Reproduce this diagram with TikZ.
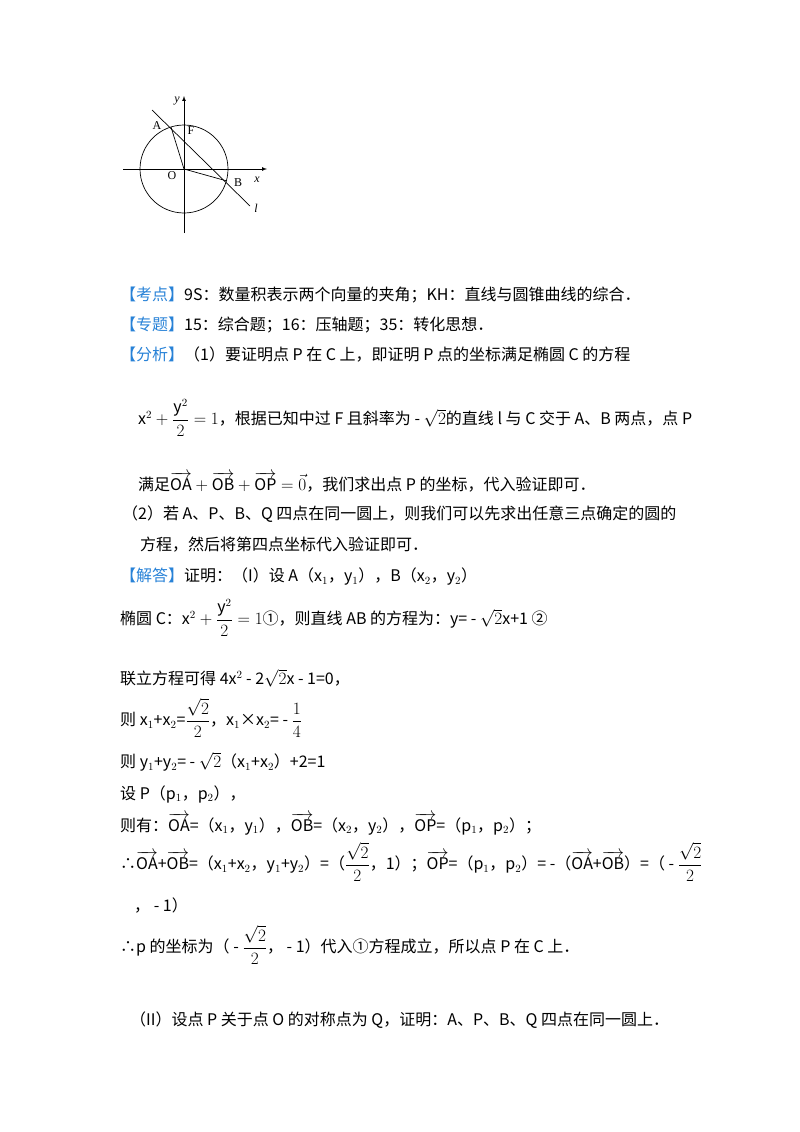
\documentclass[tikz,border=0pt]{standalone}
\usepackage{amsmath}
\usepackage{fontspec}
\setmainfont{Noto Sans CJK SC}
\newfontfamily\labfont{Liberation Serif}
\definecolor{kblue}{RGB}{40,130,215}
\newcommand{\vv}[1]{\overrightarrow{\mathrm{#1}}}
\begin{document}
\begin{tikzpicture}[x=1pt,y=-1pt,
  txt/.style={anchor=west,inner sep=0pt,font=\fontsize{16}{19}\selectfont},
  lab/.style={inner sep=0pt,font=\fontsize{12}{14}\selectfont\labfont},
  fig/.style={line width=0.7pt}]
\useasboundingbox (0,0) rectangle (800,1132);
% figure
\coordinate (O) at (184,169);
\draw[fig] (O) circle (44);
\draw[fig,-latex] (123,169) -- (267,169);
\draw[fig,-latex] (184,233) -- (184,96);
\coordinate (A) at (171,127);
\coordinate (B) at (227,181);
\coordinate (L1) at (152,110);
\coordinate (L2) at (250,206);
\draw[fig] (L1) -- (L2);
\draw[fig] (A) -- (O) -- (B);
\node[lab] at (177,101) {\textit{y}};
\node[lab] at (157,126) {A};
\node[lab] at (191,131) {F};
\node[lab] at (172,176) {O};
\node[lab] at (238,183) {B};
\node[lab] at (257,180) {\textit{x}};
\node[lab] at (256,208) {\textit{l}};
% text
\node[txt] (t1) at (120,295) {\textcolor{kblue}{【考点】}9S：数量积表示两个向量的夹角；KH：直线与圆锥曲线的综合．};
\node[txt] (t2) at (120,325) {\textcolor{kblue}{【专题】}15：综合题；16：压轴题；35：转化思想．};
\node[txt] (t3) at (120,355) {\textcolor{kblue}{【分析】}（1）要证明点 P 在 C 上，即证明 P 点的坐标满足椭圆 C 的方程};
\node[txt] (t4) at (138,418) {$\mathrm{x}^2+\dfrac{\mathrm{y}^2}{2}=1$，根据已知中过 F 且斜率为 - $\sqrt{2}$的直线 l 与 C 交于 A、B 两点，点 P};
\node[txt] (t5) at (138,482) {满足$\vv{OA}+\vv{OB}+\vv{OP}=\vec{0}$，我们求出点 P 的坐标，代入验证即可．};
\node[txt] (t6) at (122,514) {（2）若 A、P、B、Q 四点在同一圆上，则我们可以先求出任意三点确定的圆的};
\node[txt] (t7) at (140,545) {方程，然后将第四点坐标代入验证即可．};
\node[txt] (t8) at (120,577) {\textcolor{kblue}{【解答】}证明：（I）设 A（x$_1$，y$_1$），B（x$_2$，y$_2$）};
\node[txt] (t9) at (120,618) {椭圆 C：$\mathrm{x}^2+\dfrac{\mathrm{y}^2}{2}=1$①，则直线 AB 的方程为：y= - $\sqrt{2}$x+1 ②};
\node[txt] (t10) at (120,678) {联立方程可得 4x$^2$ - 2$\sqrt{2}$x - 1=0，};
\node[txt] (t11) at (120,718) {则 x$_1$+x$_2$=$\dfrac{\sqrt{2}}{2}$，x$_1$×x$_2$= - $\dfrac{1}{4}$};
\node[txt] (t12) at (120,762) {则 y$_1$+y$_2$= - $\sqrt{2}$（x$_1$+x$_2$）+2=1};
\node[txt] (t13) at (120,794) {设 P（p$_1$，p$_2$），};
\node[txt] (t14) at (120,824) {则有：$\vv{OA}$=（x$_1$，y$_1$），$\vv{OB}$=（x$_2$，y$_2$），$\vv{OP}$=（p$_1$，p$_2$）；};
\node[txt] (t15) at (120,862) {∴$\vv{OA}$+$\vv{OB}$=（x$_1$+x$_2$，y$_1$+y$_2$）=（$\dfrac{\sqrt{2}}{2}$，1）；$\vv{OP}$=（p$_1$，p$_2$）= -（$\vv{OA}$+$\vv{OB}$）=（ - $\dfrac{\sqrt{2}}{2}$};
\node[txt] (t16) at (134,905) {，  - 1）};
\node[txt] (t17) at (120,945) {∴p 的坐标为（ - $\dfrac{\sqrt{2}}{2}$， - 1）代入①方程成立，所以点 P 在 C 上．};
\node[txt] (t18) at (130,1020) {（II）设点 P 关于点 O 的对称点为 Q，证明：A、P、B、Q 四点在同一圆上．};
\end{tikzpicture}
\end{document}
